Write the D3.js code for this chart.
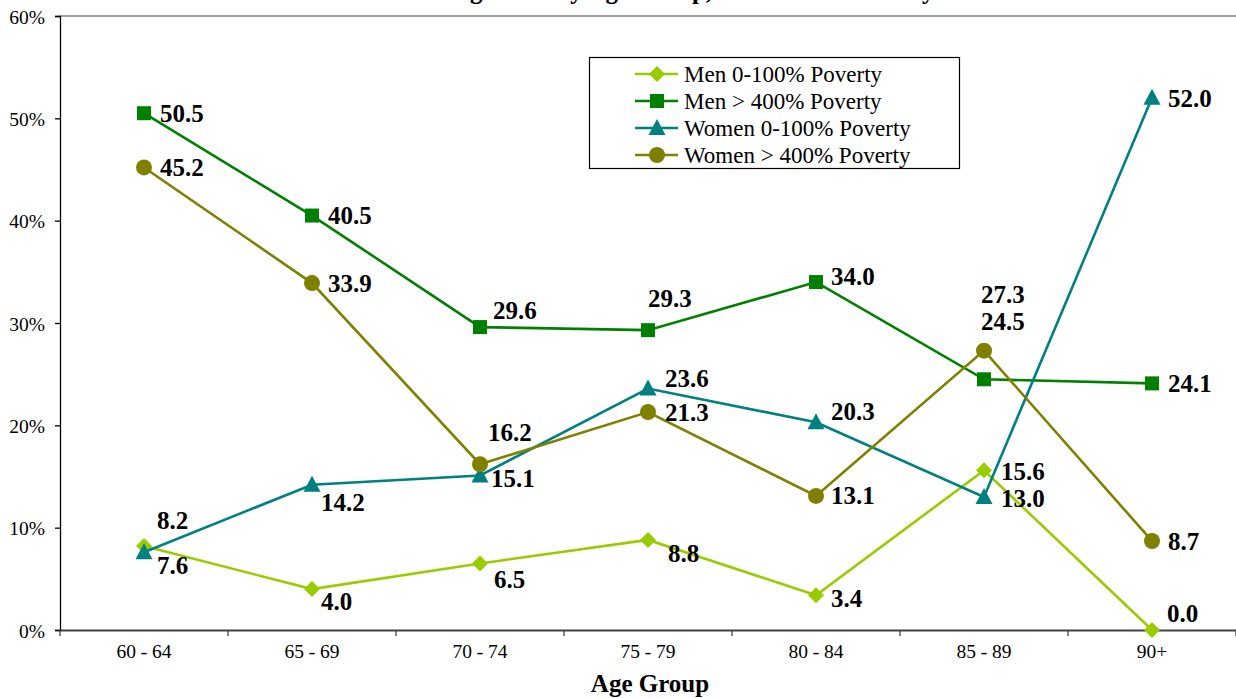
<!DOCTYPE html>
<meta charset="utf-8">
<style>
body { margin: 0; background: #fff; }
svg { display: block; }
.line { fill: none; stroke-width: 2.6px; }
svg text { font-family: "Liberation Serif", "DejaVu Serif", serif; }
.tick text { font-size: 19.5px; fill: #000; }
.lbl { font-size: 25px; font-weight: bold; fill: #000; }
.legend text { font-size: 23px; fill: #000; }
.ttl { font-size: 25px; font-weight: bold; }
</style>
<body>
<script src="https://d3js.org/d3.v7.min.js"></script>
<script>

// data
var ageGroups = ["60 - 64", "65 - 69", "70 - 74", "75 - 79", "80 - 84", "85 - 89", "90+"];
var seriesNames = ["Men 0-100% Poverty", "Men > 400% Poverty", "Women 0-100% Poverty", "Women > 400% Poverty"];
var menLow    = [8.2, 4.0, 6.5, 8.8, 3.4, 15.6, 0.0];
var menHigh   = [50.5, 40.5, 29.6, 29.3, 34.0, 24.5, 24.1];
var womenLow  = [7.6, 14.2, 15.1, 23.6, 20.3, 13.0, 52.0];
var womenHigh = [45.2, 33.9, 16.2, 21.3, 13.1, 27.3, 8.7];
var yTicks = [0, 10, 20, 30, 40, 50, 60];

// where each value label sits relative to its point (dx, dy to baseline)
var labelOffsets = [
  [[13,-17],[9,21],[14,25],[20,22],[15,12],[17,10],[15,-8]],
  [[16,9],[16,8],[13,-8],[0,-23],[15,3],[-3,-49],[16,9]],
  [[13,22],[9,26],[11,12],[17,-1],[15,-2],[17,10],[16,9]],
  [[16,9],[16,9],[8,-23],[17,9],[15,8],[-3,-48],[16,9]]
];

var colors = ["#99cc00", "#008000", "#008080", "#808000"];
var shapes = ["diamond", "square", "triangle", "circle"];
var allValues = [menLow, menHigh, womenLow, womenHigh];

var W = 1236, H = 698;
var svg = d3.select("body").append("svg")
    .attr("width", W)
    .attr("height", H);

var x = d3.scaleBand().domain(ageGroups).range([60, 1236]).padding(0);
var y = d3.scaleLinear().domain([0, 60]).range([630, 16]);
function cx(i) { return x(ageGroups[i]) + x.bandwidth() / 2; }

// title (cut off at the top of the picture, as in the original)
svg.append("text")
    .attr("class", "ttl")
    .attr("x", 630).attr("y", -1)
    .attr("text-anchor", "middle")
    .text("Percent Living Alone by Age Group, Gender and Poverty");

// top border of the plot area
svg.append("line")
    .attr("x1", 60).attr("x2", 1236)
    .attr("y1", y(60)).attr("y2", y(60))
    .attr("stroke", "#808080").attr("stroke-width", 1.3);

// y axis
var yAxis = svg.append("g")
    .attr("transform", "translate(60,0)")
    .call(d3.axisLeft(y).tickValues(yTicks).tickFormat(function(d) { return d + "%"; }).tickSize(5).tickPadding(10));
yAxis.attr("font-family", null);
yAxis.selectAll("path, line").attr("stroke", "#000").attr("stroke-width", 1.3);
yAxis.selectAll("text").attr("dy", "0.36em");

// x axis
var xAxis = svg.append("g")
    .attr("transform", "translate(0,630)")
    .call(d3.axisBottom(x).tickSize(0).tickPadding(28).tickSizeOuter(0));
xAxis.attr("font-family", null);
xAxis.select("path").attr("stroke", "#404040").attr("stroke-width", 2);
xAxis.selectAll("text").attr("dy", "0");
var bounds = ageGroups.map(function(d) { return x(d); }).concat([x.range()[1]]);
xAxis.selectAll(".edge").data(bounds).enter().append("line")
    .attr("class", "edge")
    .attr("x1", function(d) { return d; }).attr("x2", function(d) { return d; })
    .attr("y1", 0).attr("y2", 6)
    .attr("stroke", "#404040").attr("stroke-width", 1.3);

svg.append("text")
    .attr("class", "ttl")
    .attr("x", 650).attr("y", 692)
    .attr("text-anchor", "middle")
    .text("Age Group");

function drawMarker(g, shape, color, px, py) {
  if (shape === "diamond") {
    g.append("path").attr("d", "M" + px + "," + (py - 8) + "L" + (px + 8) + "," + py + "L" + px + "," + (py + 8) + "L" + (px - 8) + "," + py + "Z")
      .attr("fill", color);
  } else if (shape === "square") {
    g.append("rect").attr("x", px - 7).attr("y", py - 7).attr("width", 14).attr("height", 14).attr("fill", color);
  } else if (shape === "triangle") {
    g.append("path").attr("d", "M" + px + "," + (py - 9) + "L" + (px + 8.5) + "," + (py + 7) + "L" + (px - 8.5) + "," + (py + 7) + "Z")
      .attr("fill", color);
  } else {
    g.append("circle").attr("cx", px).attr("cy", py).attr("r", 8).attr("fill", color);
  }
}

var line = d3.line()
    .x(function(d, i) { return cx(i); })
    .y(function(d) { return y(d); });

allValues.forEach(function(vals, s) {
  var g = svg.append("g");
  g.append("path").datum(vals)
      .attr("class", "line")
      .attr("stroke", colors[s])
      .attr("d", line);
  vals.forEach(function(v, i) {
    drawMarker(g, shapes[s], colors[s], cx(i), y(v));
  });
});

// value labels on top
allValues.forEach(function(vals, s) {
  svg.append("g").selectAll("text").data(vals).enter().append("text")
      .attr("class", "lbl")
      .attr("x", function(d, i) { return cx(i) + labelOffsets[s][i][0]; })
      .attr("y", function(d, i) { return y(d) + labelOffsets[s][i][1]; })
      .text(function(d) { return d.toFixed(1); });
});

// legend
var legend = svg.append("g").attr("class", "legend");
legend.append("rect")
    .attr("x", 589.5).attr("y", 57.5).attr("width", 370).attr("height", 111)
    .attr("fill", "#fff").attr("stroke", "#000").attr("stroke-width", 1.2);
seriesNames.forEach(function(name, s) {
  var ly = 74 + s * 27;
  legend.append("line")
      .attr("x1", 635).attr("x2", 678).attr("y1", ly).attr("y2", ly)
      .attr("stroke", colors[s]).attr("stroke-width", 2.6);
  drawMarker(legend, shapes[s], colors[s], 657, ly);
  legend.append("text")
      .attr("x", 684).attr("y", ly + 7.5)
      .text(name);
});

</script>
</body>
